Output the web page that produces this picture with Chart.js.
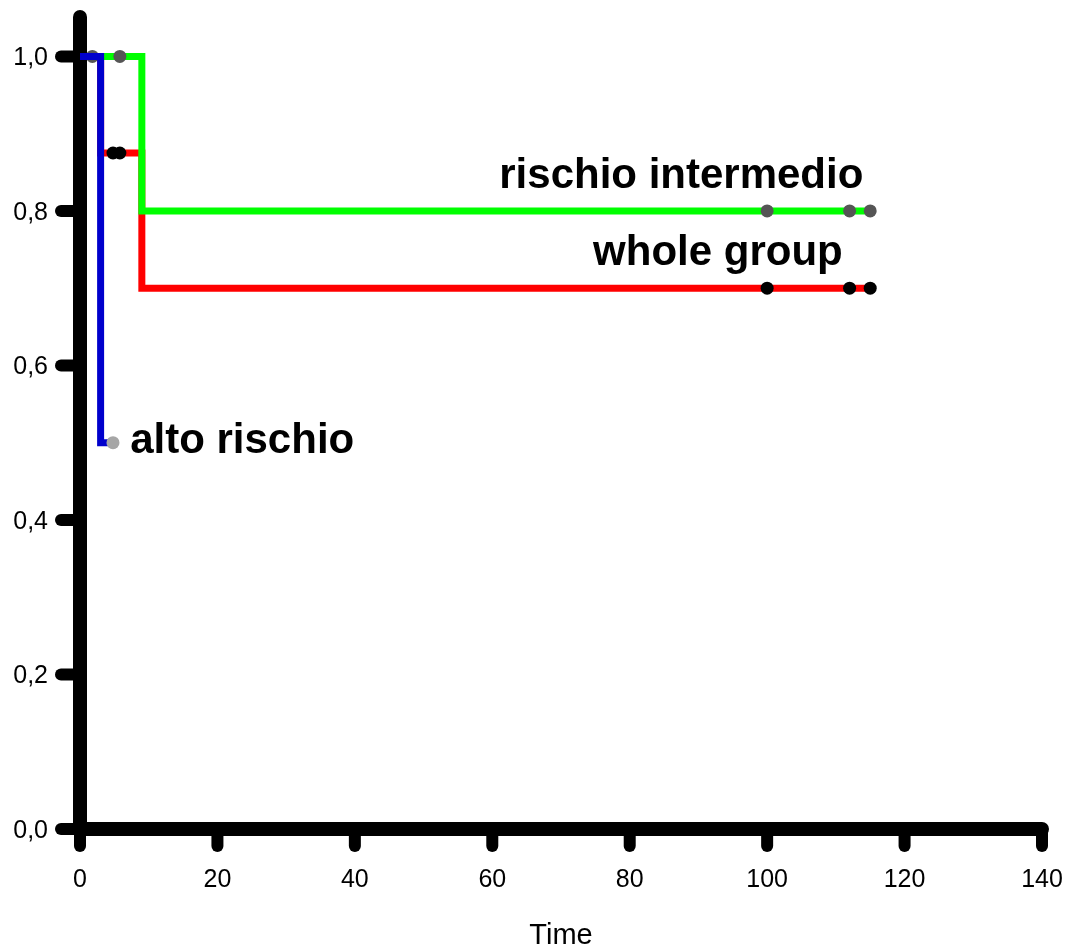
<!DOCTYPE html>
<html>
<head>
<meta charset="utf-8">
<script src="https://cdn.jsdelivr.net/npm/chart.js@4.4.1/dist/chart.umd.min.js"></script>
<style>
html,body{margin:0;padding:0;background:#fff;}
canvas{display:block;}
</style>
</head>
<body>
<canvas id="c" width="1068" height="951"></canvas>
<script>
// ---- data ----
const xTicks = [0, 20, 40, 60, 80, 100, 120, 140];
const yTicks = [0, 0.2, 0.4, 0.6, 0.8, 1.0];

// Kaplan-Meier steps: event times and survival after each step
const wholeTimes = [0, 3, 9, 115];
const wholeSurv  = [1.0, 0.875, 0.7, 0.7];
const wholeCensT = [4.8, 5.8, 100, 112, 115];
const wholeCensS = [0.875, 0.875, 0.7, 0.7, 0.7];

const interTimes = [0, 9, 115];
const interSurv  = [1.0, 0.8, 0.8];
const interCensT = [1.8, 5.8, 100, 112, 115];
const interCensS = [1.0, 1.0, 0.8, 0.8, 0.8];

const altoTimes = [0, 3, 4.8];
const altoSurv  = [1.0, 0.5, 0.5];
const altoCensT = [4.8];
const altoCensS = [0.5];

const labelTexts = ['rischio intermedio', 'whole group', 'alto rischio'];
const labelX     = [114, 111, 7.3];
const labelY     = [0.83, 0.73, 0.487];
const labelAlign = ['right', 'right', 'left'];

const pts = (xs, ys) => xs.map((x, i) => ({x: x, y: ys[i]}));
const FONT = "'Liberation Sans', Arial, sans-serif";

const axesPlugin = {
  id: 'axesPlugin',
  beforeDatasetsDraw(chart) {
    const ctx = chart.ctx, xs = chart.scales.x, ys = chart.scales.y, a = chart.chartArea;
    ctx.save();
    ctx.strokeStyle = '#000';
    ctx.lineCap = 'round';
    // ticks
    ctx.lineWidth = 12;
    const y0 = ys.getPixelForValue(0);
    const x0 = xs.getPixelForValue(0);
    xTicks.forEach(v => {
      const px = xs.getPixelForValue(v);
      ctx.beginPath(); ctx.moveTo(px, y0); ctx.lineTo(px, y0 + 17); ctx.stroke();
    });
    yTicks.forEach(v => {
      const py = ys.getPixelForValue(v);
      ctx.beginPath(); ctx.moveTo(x0, py); ctx.lineTo(x0 - 19, py); ctx.stroke();
    });
    // axis lines
    ctx.lineWidth = 14;
    ctx.beginPath(); ctx.moveTo(x0, a.top); ctx.lineTo(x0, y0); ctx.stroke();
    ctx.beginPath(); ctx.moveTo(x0, y0); ctx.lineTo(xs.getPixelForValue(140), y0); ctx.stroke();
    ctx.restore();
  },
  afterDatasetsDraw(chart) {
    const ctx = chart.ctx, xs = chart.scales.x, ys = chart.scales.y;
    ctx.save();
    ctx.fillStyle = '#000';
    ctx.font = 'bold 42px ' + FONT;
    ctx.textBaseline = 'alphabetic';
    labelTexts.forEach((t, i) => {
      ctx.textAlign = labelAlign[i];
      ctx.fillText(t, xs.getPixelForValue(labelX[i]), ys.getPixelForValue(labelY[i]));
    });
    ctx.restore();
  }
};

const lineDs = (data, color, order) => ({
  type: 'line', data: data, borderColor: color, borderWidth: 7, stepped: 'before',
  pointRadius: 0, fill: false, order: order, clip: false, borderCapStyle: 'butt', borderJoinStyle: 'miter'
});
const censDs = (data, color, order) => ({
  type: 'scatter', data: data, showLine: false, pointRadius: 6.5, pointHoverRadius: 6.5,
  pointBackgroundColor: color, pointBorderWidth: 0, pointBorderColor: color, order: order, clip: false
});

new Chart(document.getElementById('c'), {
  type: 'scatter',
  data: {
    datasets: [
      lineDs(pts(wholeTimes, wholeSurv), '#ff0000', 6),
      censDs(pts(wholeCensT, wholeCensS), '#000000', 5),
      lineDs(pts(interTimes, interSurv), '#00ff00', 4),
      censDs(pts(interCensT, interCensS), '#555555', 3),
      lineDs(pts(altoTimes, altoSurv), '#0000cc', 2),
      censDs(pts(altoCensT, altoCensS), '#a6a6a6', 1)
    ]
  },
  options: {
    responsive: false,
    animation: false,
    events: [],
    layout: {padding: {top: 17, right: 26, bottom: 0, left: 0}},
    plugins: {legend: {display: false}, tooltip: {enabled: false}, title: {display: false}},
    scales: {
      x: {
        type: 'linear', min: 0, max: 140,
        grid: {display: false, drawTicks: false},
        border: {display: false},
        ticks: {stepSize: 20, padding: 36, color: '#000', font: {family: FONT, size: 25}},
        afterBuildTicks: s => { s.ticks = xTicks.map(v => ({value: v})); },
        afterFit: s => { s.height = 122; s.paddingLeft = 0; s.paddingRight = 0; s.paddingTop = 0; s.paddingBottom = 0; },
        title: {display: true, text: 'Time', color: '#000', font: {family: FONT, size: 29, lineHeight: 1.05}, padding: 0}
      },
      y: {
        type: 'linear', min: 0, max: 1.051,
        grid: {display: false, drawTicks: false},
        border: {display: false},
        ticks: {padding: 32, labelOffset: 2, color: '#000', font: {family: FONT, size: 25},
          callback: v => v.toFixed(1).replace('.', ',')},
        afterBuildTicks: s => { s.ticks = yTicks.map(v => ({value: v})); },
        afterFit: s => { s.width = 80; s.paddingLeft = 0; s.paddingRight = 0; s.paddingTop = 0; s.paddingBottom = 0; }
      }
    }
  },
  plugins: [axesPlugin]
});
</script>
</body>
</html>
